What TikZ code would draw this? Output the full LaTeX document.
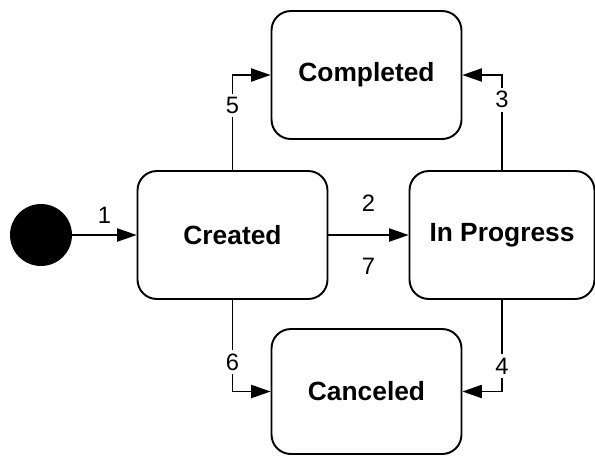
\documentclass[tikz,border=0pt]{standalone}
\usepackage{fontspec}
\setmainfont{Liberation Sans}
\usetikzlibrary{shapes,calc,positioning,arrows.meta}

\begin{document}
\begin{tikzpicture}
	[x=0.02cm,y=-0.02cm,
	state/.style={shape=rectangle,rounded corners=11pt,draw,line width=1.1pt,
	minimum width=3.8cm,minimum height=2.56cm,font=\fontsize{15}{17}\selectfont\bfseries},
	trans/.style={-{Triangle[length=11pt,width=7.5pt]},line width=0.75pt},
	num/.style={font=\fontsize{13.5}{15}\selectfont,inner sep=1pt},
	cut/.style={num,fill=white,inner sep=2pt}]
	\useasboundingbox (0,0) rectangle (595,458);
	\node[shape=circle,fill=black,minimum size=1.24cm,inner sep=0pt] (init) at (41,235) {};
	\node[state] (created) at (232.5,235) {Created};
	\node[state,minimum width=3.7cm] (progress) at (502,235) {In Progress};
	\node[state] (completed) at (366.5,75) {Completed};
	\node[state,minimum height=2.5cm] (canceled) at (366.5,391.5) {Canceled};

	\draw[trans] (init) -- node[num,above=5pt] {1} (created);
	\draw[trans] (created) -- node[num,above=12pt] {2} node[num,below=12pt] {7} (progress);
	\draw[trans] (created.north) |- node[cut,pos=0.34] {5} (completed.west);
	\draw[trans] (progress.north) |- node[cut,pos=0.37] {3} (completed.east);
	\draw[trans] (created.south) |- node[cut,pos=0.34] {6} (canceled.west);
	\draw[trans] (progress.south) |- node[cut,pos=0.36] {4} (canceled.east);
\end{tikzpicture}
\end{document}
